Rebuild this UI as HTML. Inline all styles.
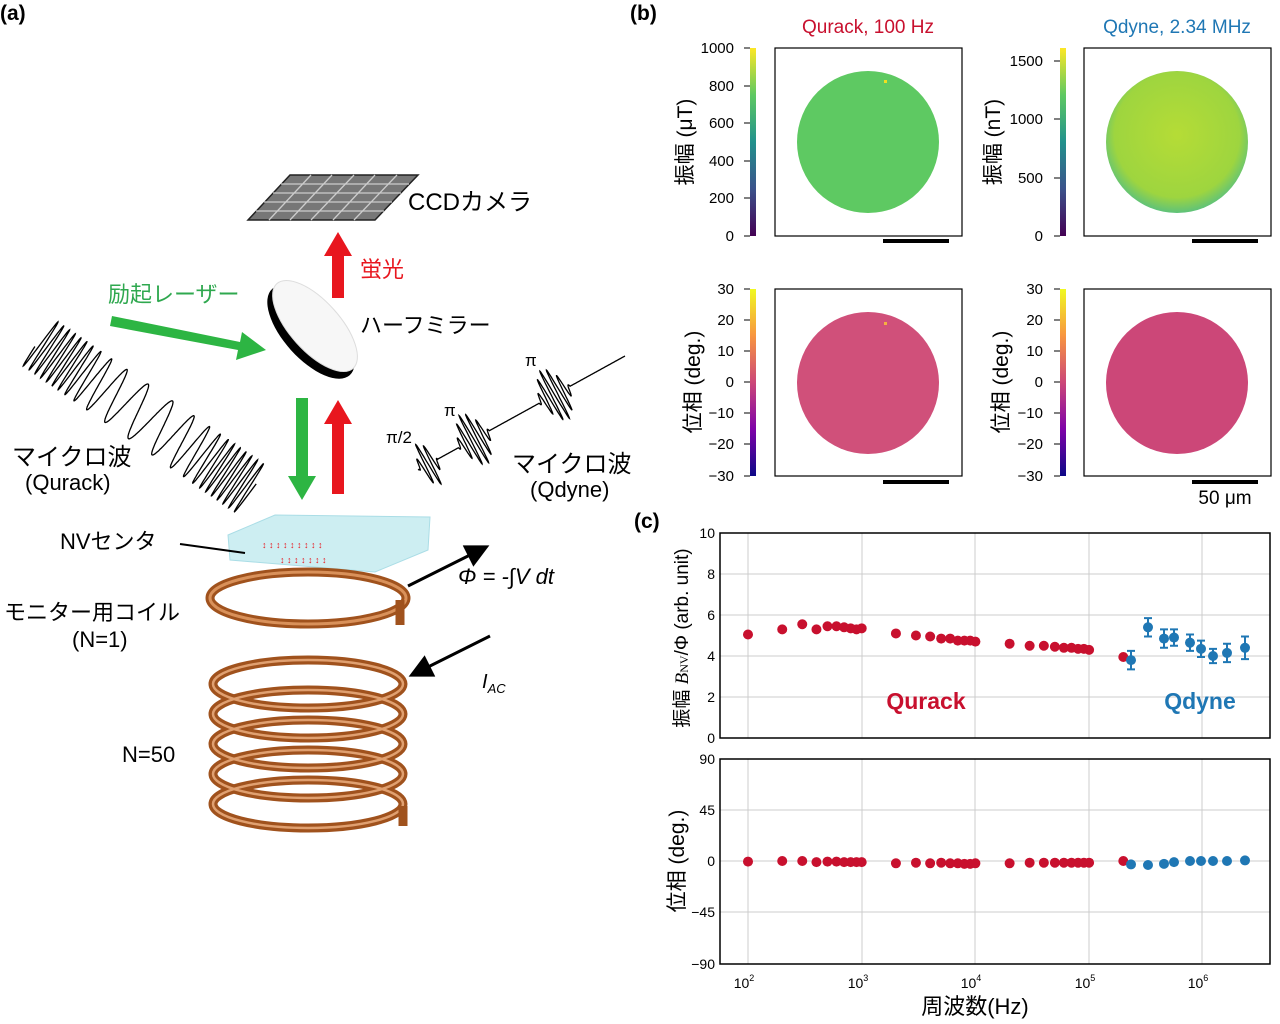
<!DOCTYPE html>
<html><head><meta charset="utf-8">
<style>
body{margin:0;background:#fff;}
svg{display:block;font-family:"Liberation Sans","Noto Sans CJK JP",sans-serif;}
</style></head><body>
<svg id="s" width="1280" height="1024" viewBox="0 0 1280 1024" xmlns="http://www.w3.org/2000/svg">
<defs>
<linearGradient id="vir" x1="0" y1="1" x2="0" y2="0">
<stop offset="0" stop-color="#440154"/><stop offset="0.25" stop-color="#3b528b"/><stop offset="0.5" stop-color="#21918c"/><stop offset="0.75" stop-color="#5ec962"/><stop offset="1" stop-color="#fde725"/></linearGradient>
<linearGradient id="pla" x1="0" y1="1" x2="0" y2="0">
<stop offset="0" stop-color="#0d0887"/><stop offset="0.25" stop-color="#7e03a8"/><stop offset="0.5" stop-color="#cc4778"/><stop offset="0.75" stop-color="#f89540"/><stop offset="1" stop-color="#f0f921"/></linearGradient>
<radialGradient id="qd" cx="0.5" cy="0.45" r="0.55"><stop offset="0" stop-color="#b5dc36"/><stop offset="0.8" stop-color="#9ed53f"/><stop offset="1" stop-color="#5ec27a"/></radialGradient>
<marker id="ah" markerWidth="8" markerHeight="8" refX="6" refY="4" orient="auto"><path d="M0,0 L8,4 L0,8 z" fill="#000"/></marker>
</defs>

<text x="0" y="20" font-size="21" font-weight="bold">(a)</text>
<text x="630" y="20" font-size="21" font-weight="bold">(b)</text>
<text x="634" y="528" font-size="21" font-weight="bold">(c)</text>

<!-- CCD -->
<polygon points="290,175 418,175 375,220 248,220" fill="#777" stroke="#222" stroke-width="1.5"/>
<g stroke="#ccc" stroke-width="1.3">
<line x1="281" y1="184" x2="409" y2="184"/><line x1="273" y1="193" x2="401" y2="193"/><line x1="264" y1="202" x2="392" y2="202"/><line x1="256" y1="211" x2="384" y2="211"/>
<line x1="311" y1="175" x2="269" y2="220"/><line x1="332" y1="175" x2="290" y2="220"/><line x1="354" y1="175" x2="311" y2="220"/><line x1="375" y1="175" x2="333" y2="220"/><line x1="397" y1="175" x2="354" y2="220"/>
</g>
<text x="408" y="210" font-size="24">CCDカメラ</text>
<rect x="332" y="252" width="12" height="46" fill="#e8161e"/><polygon points="324,256 338,232 352,256" fill="#e8161e"/>
<text x="360" y="277" font-size="22" fill="#e8161e">蛍光</text>
<text x="108" y="302" font-size="22" fill="#2fa84f">励起レーザー</text>
<polygon points="112,316 240,342 242,332 266,350 236,360 238,350 110,326" fill="#2db543"/>
<!-- mirror -->
<ellipse cx="311" cy="332" rx="58" ry="27" transform="rotate(48 311 332)" fill="#000"/>
<ellipse cx="315" cy="326" rx="57" ry="25" transform="rotate(48 315 326)" fill="#f7f7f7" stroke="#ddd"/>
<text x="360" y="333" font-size="22">ハーフミラー</text>
<rect x="296" y="398" width="12" height="80" fill="#2db543"/><polygon points="288,476 316,476 302,500" fill="#2db543"/>
<rect x="332" y="420" width="12" height="74" fill="#e8161e"/><polygon points="324,424 338,400 352,424" fill="#e8161e"/>
<path id="w1" fill="none" stroke="#000" stroke-width="1.3"/>
<path id="w2" fill="none" stroke="#000" stroke-width="1.3"/>
<text x="386" y="443" font-size="17">π/2</text>
<text x="444" y="416" font-size="17">π</text>
<text x="525" y="366" font-size="17">π</text>
<text x="12" y="465" font-size="24">マイクロ波</text>
<text x="25" y="490" font-size="22">(Qurack)</text>
<text x="512" y="472" font-size="24">マイクロ波</text>
<text x="530" y="497" font-size="22">(Qdyne)</text>
<polygon points="228,535 275,515 430,517 428,550 375,572 230,560" fill="#cdeef2" stroke="#aadde6"/>
<g fill="#e8161e" font-size="9"><text x="262" y="548">↕ ↕ ↕ ↕ ↕ ↕ ↕ ↕ ↕</text><text x="280" y="563">↕ ↕ ↕ ↕ ↕ ↕ ↕</text></g>
<text x="60" y="549" font-size="22">NVセンタ</text>
<line x1="180" y1="544" x2="245" y2="553" stroke="#000" stroke-width="2"/>
<ellipse cx="308" cy="598" rx="98" ry="26" fill="none" stroke="#a0521d" stroke-width="9"/>
<ellipse cx="308" cy="598" rx="98" ry="26" fill="none" stroke="#d9915a" stroke-width="3"/>
<path d="M400,600 L400,625" stroke="#a0521d" stroke-width="9"/>
<text x="4" y="620" font-size="22">モニター用コイル</text>
<text x="72" y="647" font-size="22">(N=1)</text>
<line x1="408" y1="586" x2="484" y2="548" stroke="#000" stroke-width="3" marker-end="url(#ah)"/>
<text x="458" y="584" font-size="22" font-style="italic">Φ = -∫V dt</text>
<line x1="490" y1="636" x2="414" y2="674" stroke="#000" stroke-width="3" marker-end="url(#ah)"/>
<text x="482" y="688" font-size="20" font-style="italic">I<tspan font-size="13" dy="5">AC</tspan></text>
<g fill="none">
<ellipse cx="308" cy="684" rx="95" ry="24" stroke="#a0521d" stroke-width="9"/>
<ellipse cx="308" cy="714" rx="95" ry="24" stroke="#a0521d" stroke-width="9"/>
<ellipse cx="308" cy="744" rx="95" ry="24" stroke="#a0521d" stroke-width="9"/>
<ellipse cx="308" cy="774" rx="95" ry="24" stroke="#a0521d" stroke-width="9"/>
<ellipse cx="308" cy="804" rx="95" ry="24" stroke="#a0521d" stroke-width="9"/>
<g stroke="#e0a070" stroke-width="2.5">
<ellipse cx="308" cy="684" rx="95" ry="24"/><ellipse cx="308" cy="714" rx="95" ry="24"/><ellipse cx="308" cy="744" rx="95" ry="24"/><ellipse cx="308" cy="774" rx="95" ry="24"/><ellipse cx="308" cy="804" rx="95" ry="24"/></g>
<path d="M403,806 L403,826" stroke="#a0521d" stroke-width="9"/>
</g>
<text x="122" y="762" font-size="22">N=50</text>

<!-- Panel b -->
<text x="868" y="33" font-size="19" fill="#c8102e" text-anchor="middle">Qurack, 100 Hz</text>
<text x="1177" y="33" font-size="19" fill="#1f77b4" text-anchor="middle">Qdyne, 2.34 MHz</text>
<rect x="750" y="48" width="6" height="188" fill="url(#vir)"/>
<rect x="1060" y="48" width="6" height="188" fill="url(#vir)"/>
<rect x="750" y="289" width="6" height="187" fill="url(#pla)"/>
<rect x="1060" y="289" width="6" height="187" fill="url(#pla)"/>
<g font-size="15" text-anchor="end">
<text x="734" y="53">1000</text><text x="734" y="91">800</text><text x="734" y="128">600</text><text x="734" y="166">400</text><text x="734" y="203">200</text><text x="734" y="241">0</text>
<text x="1043" y="66">1500</text><text x="1043" y="124">1000</text><text x="1043" y="183">500</text><text x="1043" y="241">0</text>
<text x="734" y="294">30</text><text x="734" y="325">20</text><text x="734" y="356">10</text><text x="734" y="387">0</text><text x="734" y="418">−10</text><text x="734" y="449">−20</text><text x="734" y="481">−30</text>
<text x="1043" y="294">30</text><text x="1043" y="325">20</text><text x="1043" y="356">10</text><text x="1043" y="387">0</text><text x="1043" y="418">−10</text><text x="1043" y="449">−20</text><text x="1043" y="481">−30</text>
</g>
<g stroke="#000" stroke-width="1">
<path d="M744,48h6M744,86h6M744,123h6M744,161h6M744,198h6M744,236h6M1054,61h6M1054,119h6M1054,178h6M1054,236h6M744,289h6M744,320h6M744,351h6M744,382h6M744,413h6M744,444h6M744,476h6M1054,289h6M1054,320h6M1054,351h6M1054,382h6M1054,413h6M1054,444h6M1054,476h6"/>
</g>
<g font-size="21" text-anchor="middle">
<text transform="translate(692,142) rotate(-90)">振幅 (μT)</text>
<text transform="translate(1000,142) rotate(-90)">振幅 (nT)</text>
<text transform="translate(700,382) rotate(-90)">位相 (deg.)</text>
<text transform="translate(1008,382) rotate(-90)">位相 (deg.)</text>
</g>
<g fill="none" stroke="#000" stroke-width="1.2">
<rect x="775" y="48" width="187" height="188"/><rect x="1084" y="48" width="187" height="188"/>
<rect x="775" y="289" width="187" height="187"/><rect x="1084" y="289" width="187" height="187"/>
</g>
<circle cx="868" cy="142" r="71" fill="#5ec962"/><rect x="884" y="80" width="3" height="3" fill="#f0e020"/>
<circle cx="1177" cy="142" r="71" fill="url(#qd)"/>
<circle cx="868" cy="383" r="71" fill="#d0507a"/><rect x="884" y="322" width="3" height="3" fill="#f6b040"/>
<circle cx="1177" cy="383" r="71" fill="#cc4778"/>
<g fill="#000"><rect x="883" y="239" width="66" height="4"/><rect x="1192" y="239" width="66" height="4"/><rect x="883" y="480" width="66" height="4"/><rect x="1192" y="480" width="66" height="4"/></g>
<text x="1225" y="504" font-size="19" text-anchor="middle">50 μm</text>

<!-- Panel c -->
<g stroke="#ccc" stroke-width="1">
<path d="M748,533V738M862,533V738M975,533V738M1089,533V738M1202,533V738M720,574H1270M720,615H1270M720,656H1270M720,697H1270"/>
<path d="M748,759V964M862,759V964M975,759V964M1089,759V964M1202,759V964M720,810H1270M720,861H1270M720,912H1270"/>
</g>
<g fill="none" stroke="#000" stroke-width="1.5"><rect x="720" y="533" width="550" height="205"/><rect x="720" y="759" width="550" height="205"/></g>
<g font-size="14" text-anchor="end">
<text x="715" y="538">10</text><text x="715" y="579">8</text><text x="715" y="620">6</text><text x="715" y="661">4</text><text x="715" y="702">2</text><text x="715" y="743">0</text>
<text x="715" y="764">90</text><text x="715" y="815">45</text><text x="715" y="866">0</text><text x="715" y="917">−45</text><text x="715" y="969">−90</text>
</g>
<g font-size="14" text-anchor="middle">
<text x="744" y="988">10<tspan font-size="9" dy="-7">2</tspan></text>
<text x="858" y="988">10<tspan font-size="9" dy="-7">3</tspan></text>
<text x="971" y="988">10<tspan font-size="9" dy="-7">4</tspan></text>
<text x="1085" y="988">10<tspan font-size="9" dy="-7">5</tspan></text>
<text x="1198" y="988">10<tspan font-size="9" dy="-7">6</tspan></text>
</g>
<text x="975" y="1014" font-size="22" text-anchor="middle">周波数(Hz)</text>
<text transform="translate(688,638) rotate(-90)" font-size="19" text-anchor="middle">振幅 <tspan font-family="Liberation Serif" font-style="italic">B</tspan><tspan font-size="12" font-family="Liberation Serif">NV</tspan>/Φ (arb. unit)</text>
<text transform="translate(684,861) rotate(-90)" font-size="21" text-anchor="middle">位相 (deg.)</text>
<text x="926" y="709" font-size="23" font-weight="bold" fill="#c8102e" text-anchor="middle">Qurack</text>
<text x="1200" y="709" font-size="23" font-weight="bold" fill="#1f77b4" text-anchor="middle">Qdyne</text>
<g id="pts"></g>
</svg>
<script>
var NS="http://www.w3.org/2000/svg";
(function(){var x0=38,y0=342,dx=214,dy=148,L=Math.hypot(dx,dy),ux=dx/L,uy=dy/L,px=-uy,py=ux,d="",N=1200,ph=0;
for(var i=0;i<=N;i++){var t=i/N;var lam=7+23*Math.pow(Math.sin(Math.PI*Math.min(Math.max((t-0.15)/0.7,0),1)),1.5);ph+=(L/N)*2*Math.PI/lam;var a=28*Math.sin(ph);
var x=x0+ux*L*t+px*a,y=y0+uy*L*t+py*a;d+=(i?"L":"M")+x.toFixed(1)+","+y.toFixed(1);}
document.getElementById('w1').setAttribute('d',d);})();
(function(){var x0=418,y0=470,x1=625,y1=356,dx=x1-x0,dy=y1-y0,L=Math.hypot(dx,dy),ux=dx/L,uy=dy/L,px=-uy,py=ux,d="";
var P=[[0.05,0.09,24],[0.27,0.15,28],[0.66,0.15,28]];
for(var i=0;i<=1200;i++){var t=i/1200,a=0;for(var k=0;k<3;k++){var c=P[k][0],w=P[k][1];if(Math.abs(t-c)<w/2){var e=Math.sin(Math.PI*(t-c+w/2)/w);a=P[k][2]*e*Math.sin((t-c)*L*1.0);}}
var x=x0+ux*L*t+px*a,y=y0+uy*L*t+py*a;d+=(i?"L":"M")+x.toFixed(1)+","+y.toFixed(1);}
document.getElementById('w2').setAttribute('d',d);})();
var g=document.getElementById('pts');
function X(f){return 748+113.7*(Math.log10(f)-2);}
function dot(x,y,c,e){if(e){var l=document.createElementNS(NS,'path');l.setAttribute('d','M'+x+','+(y-e)+'V'+(y+e)+'M'+(x-4)+','+(y-e)+'h8M'+(x-4)+','+(y+e)+'h8');l.setAttribute('stroke',c);l.setAttribute('stroke-width','2');g.appendChild(l);}
var ci=document.createElementNS(NS,'circle');ci.setAttribute('cx',x);ci.setAttribute('cy',y);ci.setAttribute('r',5);ci.setAttribute('fill',c);g.appendChild(ci);}
var R="#c8102e",B="#1f77b4";
var q=[[100,5.05,-0.5],[200,5.3,0],[300,5.55,0],[400,5.3,-1],[500,5.45,-0.5],[600,5.45,-0.5],[700,5.4,-1],[800,5.35,-1],[900,5.3,-1],[1000,5.35,-1],[2000,5.1,-2],[3000,5.0,-1.5],[4000,4.95,-2],[5000,4.85,-1.5],[6000,4.85,-2],[7000,4.75,-2],[8000,4.75,-2.5],[9000,4.75,-2.5],[10000,4.7,-2],[2e4,4.6,-2],[3e4,4.5,-1.5],[4e4,4.5,-1.5],[5e4,4.45,-1.5],[6e4,4.4,-1.5],[7e4,4.4,-1.5],[8e4,4.35,-1.5],[9e4,4.35,-1.5],[1e5,4.3,-1.5],[2e5,3.95,0]];
q.forEach(function(p){dot(X(p[0]),738-20.5*p[1],R,0);dot(X(p[0]),861-p[2]*1.139,R,0);});
var qd=[[1131,3.8,0.45,-3],[1148,5.4,0.45,-3.5],[1164,4.85,0.45,-2.5],[1174,4.9,0.4,-1],[1190,4.65,0.4,0],[1201,4.35,0.4,0],[1213,4.0,0.35,0],[1227,4.15,0.45,0],[1245,4.4,0.55,0.5]];
qd.forEach(function(p){dot(p[0],738-20.5*p[1],B,p[2]*20.5);dot(p[0],861-p[3]*1.139,B,0);});
</script>
</body></html>
